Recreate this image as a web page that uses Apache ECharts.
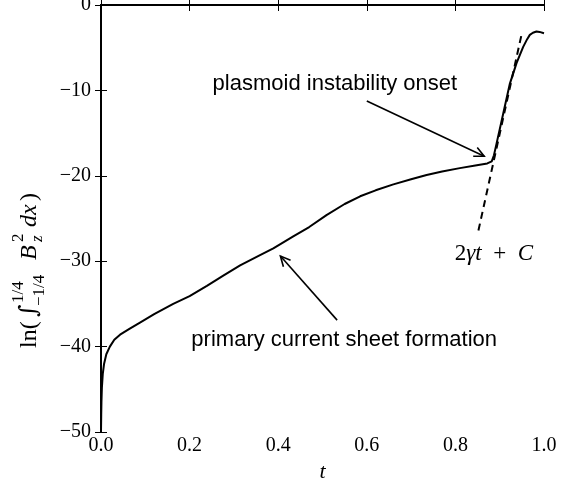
<!DOCTYPE html>
<html>
<head>
<meta charset="utf-8">
<script src="https://cdn.jsdelivr.net/npm/echarts@6/dist/echarts.min.js"></script>
<style>
  html, body { margin: 0; padding: 0; background: #fff; }
  #chart { width: 561px; height: 482px; }
</style>
</head>
<body>
<div id="chart"></div>
<script>
// Time samples and the log of the integrated Bz^2 energy
const tValues = [0, 0.0005, 0.001, 0.002, 0.004, 0.007, 0.012, 0.02, 0.03, 0.043,
  0.065, 0.088, 0.12, 0.163, 0.2, 0.239, 0.276, 0.314, 0.359, 0.389,
  0.434, 0.47, 0.509, 0.55, 0.585, 0.62, 0.66, 0.70, 0.735, 0.77,
  0.81, 0.845, 0.872, 0.882, 0.887, 0.893, 0.908, 0.923, 0.938, 0.953,
  0.962, 0.968, 0.975, 0.983, 0.99, 1.0];
const lnEnergy = [-50, -48, -46.5, -44.8, -43.2, -42, -40.9, -40.0, -39.2, -38.6,
  -37.9, -37.2, -36.2, -35.0, -34.1, -32.9, -31.7, -30.5, -29.3, -28.5,
  -27.1, -26.0, -24.6, -23.3, -22.4, -21.7, -21.0, -20.4, -19.9, -19.5,
  -19.1, -18.8, -18.55, -18.3, -17.6, -16.2, -12.7, -9.2, -6.8, -4.9,
  -4.0, -3.5, -3.25, -3.1, -3.15, -3.3];

// Linear growth fit 2*gamma*t + C
const fitT = [0.852, 0.950];
const fitY = [-26.4, -3.3];

// Annotations
const noteText = ['plasmoid instability onset', 'primary current sheet formation'];
const noteAt = [[0.528, -9.3], [0.549, -39.2]];
const arrowFrom = [[0.600, -11.24], [0.533, -36.9]];
const arrowTo = [[0.865, -17.7], [0.405, -29.4]];
const fitLabelAt = [0.887, -29.2];

const serif = 'Liberation Serif';
const sans = 'Liberation Sans';

const curve = tValues.map((t, i) => [t, lnEnergy[i]]);
const fitLine = fitT.map((t, i) => [t, fitY[i]]);
const arrows = arrowFrom.map((p, i) => [p[0], p[1], arrowTo[i][0], arrowTo[i][1]]);
const notes = noteAt.map((p, i) => [p[0], p[1], i]);

const minus = v => (v < 0 ? '\u2212' : '') + Math.abs(v);

const frameLine = { show: true, lineStyle: { color: '#000', width: 2 } };
const frameTick = { show: true, inside: true, length: 6, lineStyle: { color: '#000', width: 1 } };

const chart = echarts.init(document.getElementById('chart'), null, { renderer: 'canvas' });

// pieces of the vertical axis title, laid out along the reading direction
const titleMain = 24, titleScript = 17;
const titleParts = [
  { text: 'ln(', x: 0, y: 0, size: titleMain },
  { text: '\u222b', x: 31, y: 0, size: titleMain, family: 'DejaVu Serif' },
  { text: '1/4', x: 45, y: -11, size: titleScript },
  { text: '\u22121/4', x: 42, y: 10, size: titleScript },
  { text: 'B', x: 88, y: 0, size: titleMain, italic: true },
  { text: '2', x: 106, y: -11, size: titleScript },
  { text: 'z', x: 106, y: 8, size: titleScript, italic: true },
  { text: 'dx', x: 121, y: 0, size: titleMain, italic: true },
  { text: ')', x: 147, y: 0, size: titleMain }
];

chart.setOption({
  animation: false,
  backgroundColor: '#fff',
  grid: { left: 101, right: 17, top: 5, bottom: 50, containLabel: false, outerBoundsMode: 'none' },
  xAxis: [
    {
      type: 'value', min: 0, max: 1, interval: 0.2, position: 'bottom',
      name: 't', nameLocation: 'middle', nameGap: 24,
      nameTextStyle: { fontFamily: serif, fontStyle: 'italic', fontSize: 22, color: '#000' },
      axisLine: frameLine, axisTick: frameTick, splitLine: { show: false },
      axisLabel: { formatter: v => v.toFixed(1), fontFamily: serif, fontSize: 20, color: '#000', margin: 4 }
    },
    {
      type: 'value', min: 0, max: 1, interval: 0.2, position: 'top',
      axisLine: frameLine, axisTick: frameTick, splitLine: { show: false },
      axisLabel: { show: false }
    }
  ],
  yAxis: [
    {
      type: 'value', min: -50, max: 0, interval: 10, position: 'left',
      axisLine: frameLine, axisTick: frameTick, splitLine: { show: false },
      axisLabel: { formatter: minus, fontFamily: serif, fontSize: 20, color: '#000', margin: 10 }
    },
    {
      type: 'value', min: -50, max: 0, interval: 10, position: 'right',
      axisLine: frameLine, axisTick: frameTick, splitLine: { show: false },
      axisLabel: { show: false }
    }
  ],
  series: [
    {
      type: 'line', data: curve, showSymbol: false, smooth: false,
      lineStyle: { color: '#000', width: 2, join: 'round' }, clip: true, z: 3
    },
    {
      type: 'line', data: fitLine, showSymbol: false,
      lineStyle: { color: '#000', width: 2, type: [7, 5] }, z: 3
    },
    {
      type: 'custom', data: arrows, clip: false, z: 4,
      encode: { x: [0, 2], y: [1, 3] },
      renderItem: (params, api) => {
        const p1 = api.coord([api.value(0), api.value(1)]);
        const p2 = api.coord([api.value(2), api.value(3)]);
        const ang = Math.atan2(p2[1] - p1[1], p2[0] - p1[0]);
        const L = 11, a = 0.45;
        const h1 = [p2[0] - L * Math.cos(ang - a), p2[1] - L * Math.sin(ang - a)];
        const h2 = [p2[0] - L * Math.cos(ang + a), p2[1] - L * Math.sin(ang + a)];
        return {
          type: 'group',
          children: [
            { type: 'line', shape: { x1: p1[0], y1: p1[1], x2: p2[0], y2: p2[1] },
              style: { stroke: '#000', lineWidth: 1.6 } },
            { type: 'polyline', shape: { points: [h1, p2, h2] },
              style: { stroke: '#000', fill: null, lineWidth: 1.6 } }
          ]
        };
      }
    },
    {
      type: 'custom', data: notes, clip: false, z: 5,
      encode: { x: 0, y: 1 },
      renderItem: (params, api) => {
        const p = api.coord([api.value(0), api.value(1)]);
        return {
          type: 'text', x: p[0], y: p[1],
          style: {
            text: noteText[api.value(2)], fontFamily: sans, fontSize: 22,
            fill: '#000', align: 'center', verticalAlign: 'middle'
          }
        };
      }
    },
    {
      type: 'custom', data: [fitLabelAt], clip: false, z: 5,
      encode: { x: 0, y: 1 },
      renderItem: (params, api) => {
        const p = api.coord([api.value(0), api.value(1)]);
        return {
          type: 'text', x: p[0], y: p[1],
          style: {
            text: '{n|2}{i|\u03b3t}{n|  +  }{i|C}',
            fill: '#000', align: 'center', verticalAlign: 'middle',
            rich: {
              n: { fontFamily: serif, fontSize: 23, fill: '#000' },
              i: { fontFamily: serif, fontSize: 23, fontStyle: 'italic', fill: '#000' }
            }
          }
        };
      }
    }
  ],
  graphic: [
    {
      // vertical axis title: ln( ∫_{-1/4}^{1/4} B_z^2 dx )
      type: 'group', x: 30, y: 348, rotation: Math.PI / 2,
      children: titleParts.map(p => ({
        type: 'text', x: p.x, y: p.y,
        style: {
          text: p.text, fontFamily: p.family || serif, fontSize: p.size,
          fontStyle: p.italic ? 'italic' : 'normal', fill: '#000', verticalAlign: 'middle'
        }
      }))
    }
  ]
});
</script>
</body>
</html>
